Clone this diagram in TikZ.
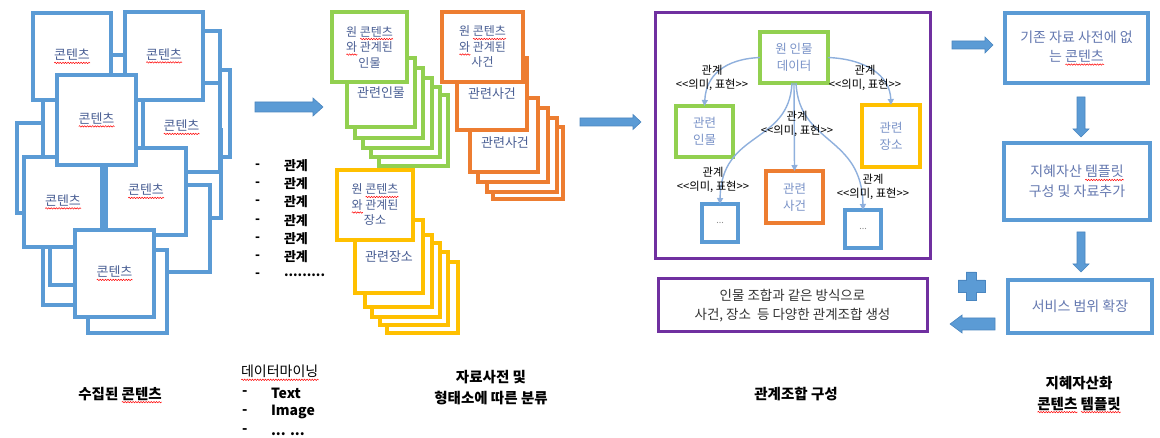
\documentclass[tikz,border=0pt]{standalone}
\usepackage{fontspec}
\setmainfont{Noto Sans CJK KR}
\usetikzlibrary{arrows.meta,decorations.pathmorphing}
\definecolor{cblue}{HTML}{5B9BD5}
\definecolor{arrowdark}{HTML}{4A86C0}
\definecolor{cgreen}{HTML}{92D050}
\definecolor{corange}{HTML}{ED7D31}
\definecolor{cyellow}{HTML}{FFC000}
\definecolor{cpurple}{HTML}{7030A0}
\definecolor{txtdark}{HTML}{4A5F94}
\definecolor{txtmid}{HTML}{6478B0}
\definecolor{txtlight}{HTML}{7A93C8}
\definecolor{connc}{HTML}{8FB0DD}
\definecolor{dotgray}{HTML}{8A8A8A}
\newlength\wvlen
\newcommand\redwave[1]{\settowidth{\wvlen}{#1}\rlap{\tikz[baseline=0pt]\draw[red,line width=0.5pt,decorate,decoration={snake,amplitude=0.7pt,segment length=2.6pt}] (0pt,-3pt) -- (\wvlen,-3pt);}#1}
\begin{document}
\begin{tikzpicture}[x=1pt,y=-1pt,
  base/.style={inner sep=0pt, outer sep=0pt},
  sz/.style 2 args={minimum width=#1pt, minimum height=#2pt},
  cbox/.style={base, draw=cblue, line width=4pt, fill=white, text=txtdark, font=\fontsize{13}{15}\selectfont},
  gbox/.style={cbox, draw=cgreen},
  obox/.style={cbox, draw=corange},
  ybox/.style={cbox, draw=cyellow},
  stk/.style={align=center, font=\fontsize{12}{15.5}\selectfont},
  pbox/.style={base, draw=cpurple, line width=3pt, fill=white},
  ibox/.style={base, line width=4pt, fill=white, text=txtlight, align=center, font=\fontsize{12.5}{17}\selectfont},
  rbox/.style={base, draw=cblue, line width=4pt, fill=white, text=txtmid, align=center, font=\fontsize{14}{19.5}\selectfont},
  lab/.style={base, align=center, font=\fontsize{11.3}{13.5}\selectfont},
  conn/.style={draw=connc, line width=1.4pt, -{Triangle[length=6pt,width=6pt]}},
  barrow/.style={fill=cblue, draw=arrowdark, line width=0.6pt},
  blab/.style={base, align=center, font=\bfseries\fontsize{14.5}{21}\selectfont},
  listtxt/.style={base, anchor=west, font=\bfseries\fontsize{13}{15}\selectfont},
  plaintxt/.style={base, anchor=west, font=\fontsize{14}{16}\selectfont}
]
\useasboundingbox (0,0) rectangle (1160,438);
\clip (0,0) rectangle (1160,438);
\fill[white] (0,0) rectangle (1160,438);

% ---------- collected contents cluster ----------
\draw[cbox] (17,123) rectangle (100,213);
\draw[cbox] (43,55) rectangle (140,160);
\draw[cbox] (140,70) rectangle (230,157);
\draw[cbox] (125,31) rectangle (220,172);
\draw[cbox] (150,130) rectangle (221,218);
\draw[cbox] (130,185) rectangle (210,272);
\draw[cbox] (43,220) rectangle (120,305);
\draw[cbox] (50,200) rectangle (130,285);
\draw[cbox] (88,250) rectangle (167,333);
\node[cbox, sz={77}{89}] (cd) at (181.5,127.5) {\redwave{콘텐츠}};
\node[cbox, sz={78}{90}] (ce) at (63,202) {\redwave{콘텐츠}};
\node[cbox, sz={80}{87}] (cf) at (146,191.5) {\redwave{콘텐츠}};
\node[cbox, sz={78}{87}] (ca) at (72,56.5) {\redwave{콘텐츠}};
\node[cbox, sz={78}{88}] (cb) at (164,56) {\redwave{콘텐츠}};
\node[cbox, sz={79}{90}] (cc) at (96.5,120) {\redwave{콘텐츠}};
\node[cbox, sz={79}{87}] (cg) at (114.5,273.5) {\redwave{콘텐츠}};

% ---------- arrow 1 and relation list ----------
\draw[barrow] (255,102) -- (313,102) -- (313,98) -- (323,107) -- (313,116) -- (313,112) -- (255,112) -- cycle;
\foreach \i/\yy in {1/166,2/184,3/202,4/221,5/239,6/257}{
  \node[listtxt] (ld\i) at (255,\yy) {-};
  \node[listtxt] (lt\i) at (284,\yy) {관계};
}
\node[listtxt] (ld7) at (255,275) {-};
\node[listtxt] (lt7) at (284,275) {.........};

% ---------- green stack ----------
\draw[gbox] (379,95) rectangle (448,166);
\draw[gbox] (371,87) rectangle (440,157);
\draw[gbox] (363,78) rectangle (432,148);
\draw[gbox] (355,68) rectangle (423,138);
\node[gbox, sz={68}{69}] (gr) at (381,92.5) {관련인물};
\node[gbox, stk, sz={75}{70}] (gf) at (369.5,47) {원 \redwave{콘텐츠}\\\redwave{와} 관계된\\인물};

% ---------- orange stack ----------
\draw[obox] (493,127) rectangle (563,199);
\draw[obox] (487,118) rectangle (557,192);
\draw[obox] (478,108) rectangle (548,182);
\node[obox, sz={68}{74}] (or2) at (504,135) {};
\node[base, text=txtdark, font=\fontsize{13}{15}\selectfont] (or2t) at (505,143) {관련사건};
\node[obox, sz={70}{72}] (or1) at (492,94) {관련사건};
\node[obox, stk, sz={81}{70}] (of) at (482.5,47) {원 \redwave{콘텐츠}\\\redwave{와} 관계된\\사건};

% ---------- yellow stack ----------
\draw[ybox] (387,262) rectangle (458,333);
\draw[ybox] (380,252) rectangle (448,325);
\draw[ybox] (372,243) rectangle (440,317);
\draw[ybox] (365,235) rectangle (432,307);
\node[ybox, sz={68}{73}] (yr) at (389,256.5) {관련장소};
\node[ybox, stk, sz={76}{70}] (yf) at (375,205) {원 \redwave{콘텐츠}\\\redwave{와} 관계된\\장소};

% ---------- arrow 2 ----------
\draw[barrow] (580,118) -- (633,118) -- (633,114.5) -- (641,122) -- (633,129.5) -- (633,126) -- (580,126) -- cycle;

% ---------- relation combination frame ----------
\node[pbox, sz={275}{246}] (pur) at (792.5,136) {};
\node[ibox, draw=cgreen, sz={68}{51}] (data) at (794,57.5) {원 인물\\데이터};
\node[ibox, draw=cgreen, sz={57}{51}] (rp) at (704.5,131.5) {관련\\인물};
\node[ibox, draw=cyellow, sz={58}{62}] (rl) at (891,136) {관련\\장소};
\node[ibox, draw=corange, sz={57}{52}] (re) at (794.5,197) {관련\\사건};
\node[ibox, draw=cblue, sz={36}{38}, text=dotgray, font=\fontsize{9}{10}\selectfont] (d1) at (720,223) {...};
\node[ibox, draw=cblue, sz={36}{38}, text=dotgray, font=\fontsize{9}{10}\selectfont] (d2) at (863,229) {...};

\draw[conn] (data.west) .. controls (725,59) and (706,75) .. (rp.north);
\draw[conn] (data.east) .. controls (865,59) and (890,75) .. (rl.north);
\draw[conn] (data.south) -- (re.north);
\draw[conn] ([xshift=-2pt]data.south) .. controls (789,145) and (721,130) .. (d1.north);
\draw[conn] ([xshift=2pt]data.south) .. controls (799,145) and (862,135) .. (d2.north);

\node[lab] (l1) at (712,78) {관계\\<{}<의미, 표현>{}>};
\node[lab] (l2) at (865,78) {관계\\<{}<의미, 표현>{}>};
\node[lab] (l3) at (797,124) {관계\\<{}<의미, 표현>{}>};
\node[lab] (l4) at (713,180) {관계\\<{}<의미, 표현>{}>};
\node[lab] (l5) at (873,187) {관계\\<{}<의미, 표현>{}>};

% ---------- lower purple box ----------
\node[pbox, sz={269}{53}, align=center, text=black!80, font=\fontsize{13.5}{19.5}\selectfont] (pb2) at (792.5,305.5) {인물 조합과 같은 방식으로\\사건, 장소\ \ 등 다양한 관계조합 생성};

% ---------- right column ----------
\draw[barrow] (952,41) -- (985,41) -- (985,37) -- (993,45) -- (985,53) -- (985,49) -- (952,49) -- cycle;
\node[rbox, sz={143}{70}] (rb1) at (1076.5,48) {기존 자료 사전에 없\\는 \redwave{콘텐츠}};
\draw[barrow] (1077,97) -- (1085,97) -- (1085,129) -- (1089,129) -- (1081,137) -- (1073,129) -- (1077,129) -- cycle;
\node[rbox, sz={146}{77}] (rb2) at (1077,181.5) {지혜자산 \redwave{템플릿}\\구성 및 자료추가};
\draw[barrow] (1077,232) -- (1085,232) -- (1085,264) -- (1089,264) -- (1081,272) -- (1073,264) -- (1077,264) -- cycle;
\node[rbox, sz={144}{53}] (rb3) at (1080,306.5) {서비스 범위 확장};
\draw[barrow] (966,272) -- (976,272) -- (976,280) -- (985,280) -- (985,292) -- (976,292) -- (976,300) -- (966,300) -- (966,292) -- (958,292) -- (958,280) -- (966,280) -- cycle;
\draw[barrow] (995,318) -- (962,318) -- (962,315) -- (950,324) -- (962,333) -- (962,330) -- (995,330) -- cycle;

% ---------- bottom captions ----------
\node[blab] (t1) at (120,395) {수집된 \redwave{콘텐츠}};
\node[plaintxt] (t2) at (241,373) {\redwave{데이터마이닝}};
\node[listtxt, font=\bfseries\fontsize{14}{16}\selectfont] (t2d1) at (242,393) {-};
\node[listtxt, font=\bfseries\fontsize{14}{16}\selectfont] (t2a) at (271,393) {Text};
\node[listtxt, font=\bfseries\fontsize{14}{16}\selectfont] (t2d2) at (242,412) {-};
\node[listtxt, font=\bfseries\fontsize{14}{16}\selectfont] (t2b) at (271,412) {Image};
\node[listtxt, font=\bfseries\fontsize{14}{16}\selectfont] (t2d3) at (242,431) {-};
\node[listtxt, font=\bfseries\fontsize{14}{16}\selectfont] (t2c) at (271,434) {... ...};
\node[blab] (t3) at (491,388) {자료사전 및\\형태소에 따른 분류};
\node[blab] (t4) at (796,394) {관계조합 구성};
\node[blab] (t5) at (1079,394.5) {지혜자산화\\\redwave{콘텐츠} \redwave{템플릿}};
\end{tikzpicture}
\end{document}
